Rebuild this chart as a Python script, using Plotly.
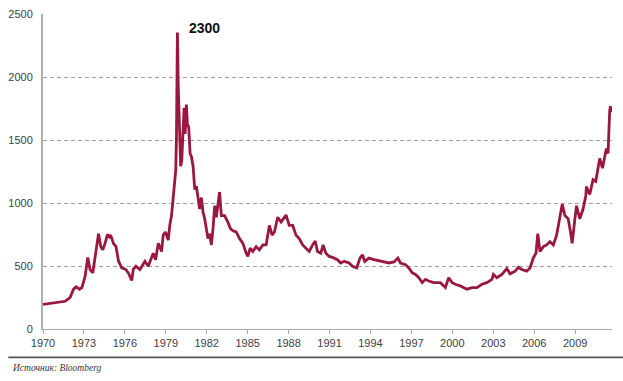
import plotly.graph_objects as go

# gold price history
years = [1970.0, 1971.02, 1971.63, 1971.99, 1972.24, 1972.43, 1972.68, 1972.85, 1973.09, 1973.28,
         1973.45, 1973.65, 1973.82, 1974.07, 1974.23, 1974.38, 1974.55, 1974.72, 1974.87, 1974.96,
         1975.16, 1975.35, 1975.53, 1975.77, 1976.08, 1976.28, 1976.50, 1976.62, 1976.81, 1977.10,
         1977.47, 1977.71, 1978.08, 1978.25, 1978.45, 1978.69, 1978.81, 1978.98, 1979.18, 1979.29,
         1979.42, 1979.54, 1979.61, 1979.66, 1979.73, 1979.78, 1979.85, 1979.91, 1979.95, 1980.02,
         1980.09, 1980.17, 1980.24, 1980.34, 1980.42, 1980.51, 1980.58, 1980.68, 1980.78, 1980.88,
         1981.00, 1981.07, 1981.12, 1981.24, 1981.36, 1981.48, 1981.61, 1981.73, 1981.85, 1981.97,
         1982.09, 1982.21, 1982.34, 1982.46, 1982.58, 1982.70, 1982.82, 1982.94, 1983.07, 1983.31,
         1983.55, 1983.74, 1983.92, 1984.16, 1984.40, 1984.65, 1984.89, 1985.01, 1985.18, 1985.38,
         1985.62, 1985.86, 1986.11, 1986.35, 1986.59, 1986.79, 1986.96, 1987.20, 1987.45, 1987.61,
         1987.81, 1988.05, 1988.30, 1988.54, 1988.78, 1989.03, 1989.27, 1989.51, 1989.76, 1989.95,
         1990.12, 1990.36, 1990.53, 1990.73, 1990.97, 1991.22, 1991.58, 1991.82, 1992.07, 1992.43,
         1992.68, 1992.99, 1993.23, 1993.41, 1993.58, 1993.89, 1994.26, 1994.62, 1994.99, 1995.35,
         1995.72, 1996.01, 1996.20, 1996.57, 1996.81, 1997.06, 1997.30, 1997.54, 1997.79, 1998.03,
         1998.27, 1998.64, 1999.12, 1999.49, 1999.73, 1999.98, 2000.22, 2000.58, 2001.07, 2001.44,
         2001.80, 2002.17, 2002.53, 2002.90, 2003.01, 2003.26, 2003.63, 2003.99, 2004.23, 2004.60,
         2004.84, 2005.09, 2005.45, 2005.69, 2005.93, 2006.13, 2006.26, 2006.42, 2006.67, 2006.91,
         2007.15, 2007.40, 2007.64, 2007.88, 2008.05, 2008.25, 2008.49, 2008.66, 2008.78, 2008.98,
         2009.10, 2009.34, 2009.58, 2009.78, 2009.82, 2010.07, 2010.31, 2010.51, 2010.68, 2010.80,
         2011.00, 2011.12, 2011.29, 2011.41, 2011.48, 2011.53, 2011.58, 2011.62]
prices = [195, 208, 220, 251, 316, 335, 316, 329, 420, 568,
          472, 446, 589, 757, 654, 628, 680, 750, 731, 745,
          680, 654, 540, 485, 472, 440, 385, 475, 498, 472,
          537, 498, 602, 550, 680, 615, 745, 770, 706, 822,
          900, 1043, 1160, 1185, 1263, 1523, 2353, 1938, 1782, 1368,
          1292, 1341, 1574, 1756, 1549, 1782, 1626, 1601, 1393, 1367,
          1290, 1211, 1107, 1134, 1030, 952, 1043, 926, 874, 796,
          718, 757, 667, 796, 978, 887, 1004, 1087, 900, 900,
          848, 796, 780, 770, 718, 680, 602, 576, 641, 615,
          654, 628, 667, 667, 822, 745, 770, 887, 848, 874,
          905, 822, 822, 745, 718, 667, 641, 615, 667, 698,
          615, 602, 667, 602, 576, 568, 550, 524, 537, 524,
          498, 485, 563, 589, 537, 563, 550, 542, 537, 524,
          532, 563, 524, 511, 485, 446, 433, 407, 368, 394,
          381, 368, 368, 329, 407, 368, 355, 342, 316, 329,
          329, 355, 368, 394, 433, 407, 433, 480, 438, 459,
          490, 472, 459, 485, 563, 602, 757, 615, 654, 667,
          693, 667, 745, 874, 991, 900, 874, 770, 680, 874,
          978, 874, 952, 1056, 1130, 1068, 1185, 1173, 1290, 1354,
          1276, 1354, 1432, 1393, 1626, 1730, 1769, 1720]

x_ticks = [1970, 1973, 1976, 1979, 1982, 1985, 1988, 1991, 1994, 1997, 2000, 2003, 2006, 2009]
y_ticks = [0, 500, 1000, 1500, 2000, 2500]

fig = go.Figure()
fig.add_trace(go.Scatter(x=years, y=prices, mode="lines",
                         line=dict(color="#9a1840", width=2.8), showlegend=False))

fig.add_annotation(x=1981.8, y=2385, text="<b>2300</b>", showarrow=False,
                   font=dict(family="Liberation Sans", size=14, color="#111111"))

# footnote and separator line
fig.add_shape(type="line", xref="paper", yref="paper", x0=-0.061, x1=1.02, y0=-0.09, y1=-0.09,
              line=dict(color="#555555", width=1.6))
fig.add_annotation(xref="paper", yref="paper", x=-0.058, y=-0.125, xanchor="left", yanchor="middle",
                   text="<i>Источник: Bloomberg</i>", showarrow=False,
                   font=dict(family="Liberation Serif", size=9.5, color="#333333"))

fig.update_layout(
    width=623, height=381,
    margin=dict(l=40, r=11, t=8, b=52),
    paper_bgcolor="white", plot_bgcolor="white",
    font=dict(family="Liberation Sans", size=11, color="#404040"),
)
fig.update_xaxes(range=[1970, 2011.7], tickvals=x_ticks, ticktext=[str(t) for t in x_ticks],
                 showgrid=False, zeroline=False, showline=True, linecolor="#aaaaaa", linewidth=1,
                 ticks="outside", ticklen=4, tickcolor="#aaaaaa")
fig.update_yaxes(range=[0, 2500], tickvals=y_ticks, showgrid=True, gridcolor="#a0a0a0",
                 griddash="4px,3px", gridwidth=1, zeroline=False, showline=True,
                 linecolor="#b0b0b0", linewidth=2, ticks="", ticklabelstandoff=6)

# page has a default body margin, drop it so the chart sits at 0,0
fig.write_html("out.html", config={"displayModeBar": False},
               post_script="document.body.style.margin='0';")
